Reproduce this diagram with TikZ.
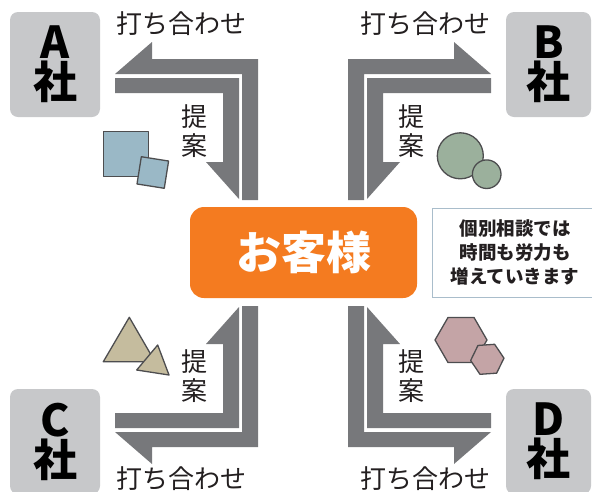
\documentclass[tikz,border=0pt]{standalone}
\usepackage{fontspec}
\setmainfont{Noto Sans CJK JP}
\usepackage{xcolor}
\usepackage{tikz}
\definecolor{bandgray}{HTML}{77787B}
\definecolor{boxgray}{HTML}{C7C8CA}
\definecolor{custorange}{HTML}{F47B20}
\definecolor{infoline}{HTML}{A9BDCB}
\definecolor{inkgray}{HTML}{231F20}
\definecolor{edgegray}{HTML}{4D4D4F}
\definecolor{sqblue}{HTML}{9AB8C6}
\definecolor{cirgreen}{HTML}{9BB09C}
\definecolor{tritan}{HTML}{C5BC9E}
\definecolor{hexrose}{HTML}{C4A4A6}

\begin{document}
\begin{tikzpicture}[x=1pt,y=-1pt,
  company/.style={fill=boxgray,rounded corners=8pt,minimum width=90pt,minimum height=105pt,inner sep=0pt,align=center,font=\fontsize{44}{40}\selectfont\bfseries,text=black},
  meet/.style={font=\fontsize{26}{29}\selectfont,text=inkgray,inner sep=0pt},
  propose/.style={font=\fontsize{26}{29}\selectfont,text=inkgray,inner sep=0pt,align=center},
  piece/.style={draw=edgegray,line width=1.3pt,line join=round}]

\useasboundingbox (0,0) rectangle (592,491);
\coordinate (O) at (303,253);

% the two bent arrows of each corner
\foreach \sx/\sy in {1/1,-1/1,1/-1,-1/-1}{
  \begin{scope}[shift={(O)},xscale=\sx,yscale=\sy]
    \fill[bandgray] (-45,-53) -- (-45,-194) -- (-151,-194) -- (-151,-211) -- (-188,-179) -- (-61,-179) -- (-61,-53) -- cycle;
    \fill[bandgray] (-188,-175) -- (-64,-175) -- (-64,-54) -- (-97,-91) -- (-80,-91) -- (-80,-160) -- (-188,-160) -- cycle;
  \end{scope}
}

\node[company] (a) at (55,64.5) {A\\社};
\node[company,minimum width=85pt] (b) at (548.5,64.5) {B\\社};
\node[company] (c) at (55,441.5) {C\\社};
\node[company,minimum width=85pt] (d) at (548.5,441.5) {D\\社};

\node[fill=custorange,rounded corners=14pt,minimum width=227pt,minimum height=91pt,font=\fontsize{45}{45}\selectfont\bfseries,text=white] (cust) at (303.5,252.5) {お客様};
\node[draw=infoline,line width=1pt,fill=white,minimum width=166pt,minimum height=89pt,align=center,font=\fontsize{18.5}{24}\selectfont\bfseries,text=inkgray] (info) at (515,252.5) {個別相談では\\時間も労力も\\増えていきます};

\node[meet] (ma) at (181,24) {打ち合わせ};
\node[meet] (mb) at (425,24) {打ち合わせ};
\node[meet] (mc) at (181,479) {打ち合わせ};
\node[meet] (md) at (425,479) {打ち合わせ};

\node[propose] (pa) at (194,131) {提\\案};
\node[propose] (pb) at (411,131) {提\\案};
\node[propose] (pc) at (194,376) {提\\案};
\node[propose] (pd) at (411,376) {提\\案};

% little figures
\draw[piece,fill=sqblue] (103.3,131.7) rectangle (148.3,176.7);
\draw[piece,fill=sqblue,rotate around={-9:(152.8,172.5)}] (139,158.7) rectangle (166.6,186.3);

\draw[piece,fill=cirgreen] (460.3,155.8) circle (23);
\draw[piece,fill=cirgreen] (486.7,174.2) circle (14.3);

\draw[piece,fill=tritan] (129.3,317.3) -- (103.3,361.7) -- (155,361.7) -- cycle;
\draw[piece,fill=tritan] (157.7,345) -- (136.7,370) -- (169,375) -- cycle;

\draw[piece,fill=hexrose,shift={(461,340)}] (0:26) -- (60:26) -- (120:26) -- (180:26) -- (240:26) -- (300:26) -- cycle;
\draw[piece,fill=hexrose,shift={(487.3,359.3)},rotate=4] (0:16.7) -- (60:16.7) -- (120:16.7) -- (180:16.7) -- (240:16.7) -- (300:16.7) -- cycle;
\end{tikzpicture}
\end{document}
